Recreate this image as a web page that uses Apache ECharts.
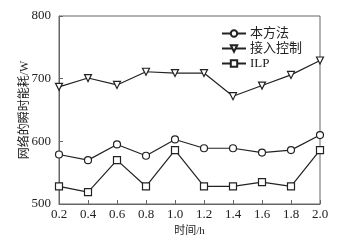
<!DOCTYPE html>
<html><head><meta charset="utf-8">
<script src="https://cdn.jsdelivr.net/npm/echarts@6/dist/echarts.min.js"></script>
<style>html,body{margin:0;padding:0;background:#fff}#c{width:344px;height:246px}</style>
</head><body><div id="c"></div>
<script>
var categories = [0.2, 0.4, 0.6, 0.8, 1.0, 1.2, 1.4, 1.6, 1.8, 2.0];
var seriesNames = ['本方法', '接入控制', 'ILP'];
var ours = [579, 570, 595, 577, 603, 589, 589, 582, 586, 610];
var admission = [687, 701, 690, 711, 709, 709, 672, 689, 706, 729];
var ilp = [528, 519, 570, 528, 586, 528, 528, 535, 528, 586];
var yTicks = [500, 600, 700, 800];

function pairs(vals){ return categories.map(function(c,i){ return [c, vals[i]]; }); }
var serifFont = '"Liberation Serif", "Noto Sans CJK SC", serif';
var lineColor = '#222';
var axisColor = '#666';
function mk(name, vals, symbol, rot){
  return {
    name: name, type: 'line', data: pairs(vals),
    symbol: symbol, symbolSize: 7, symbolRotate: rot || 0,
    lineStyle: {color: lineColor, width: 1.2},
    itemStyle: {color: '#fff', borderColor: lineColor, borderWidth: 1.2},
    emphasis: {disabled: true}, animation: false
  };
}
var chart = echarts.init(document.getElementById('c'), null, {renderer: 'canvas'});
chart.setOption({
  animation: false,
  grid: {left: 59, right: 24, top: 16, bottom: 42, show: true, borderColor: axisColor, borderWidth: 1},
  legend: {
    left: 216, top: 22, orient: 'vertical', itemGap: 2, itemWidth: 24, itemHeight: 8,
    textStyle: {fontFamily: serifFont, fontSize: 13, color: '#222', padding: [0,0,0,-1]},
    data: seriesNames
  },
  xAxis: {
    type: 'value', min: 0.2, max: 2.0, interval: 0.2,
    name: '时间/h', nameLocation: 'middle', nameGap: 22,
    nameTextStyle: {fontFamily: serifFont, fontSize: 11, color: '#222'},
    axisLine: {lineStyle: {color: axisColor}},
    axisTick: {inside: true, length: 4, lineStyle: {color: axisColor}},
    axisLabel: {fontFamily: serifFont, fontSize: 13, color: '#222', margin: 4,
      formatter: function(v){ return (+v).toFixed(1); }},
    splitLine: {show: false}
  },
  yAxis: {
    type: 'value', min: yTicks[0], max: yTicks[yTicks.length-1], interval: 100,
    name: '网络的瞬时能耗/W', nameLocation: 'middle', nameGap: 28, nameMoveOverlap: false,
    nameTextStyle: {fontFamily: serifFont, fontSize: 12, color: '#222'},
    axisLine: {lineStyle: {color: axisColor}},
    axisTick: {inside: true, length: 4, lineStyle: {color: axisColor}},
    axisLabel: {fontFamily: serifFont, fontSize: 13, color: '#222', margin: 8},
    splitLine: {show: false}
  },
  series: [
    mk(seriesNames[0], ours, 'circle'),
    mk(seriesNames[1], admission, 'triangle', 180),
    mk(seriesNames[2], ilp, 'rect')
  ]
});
</script></body></html>
